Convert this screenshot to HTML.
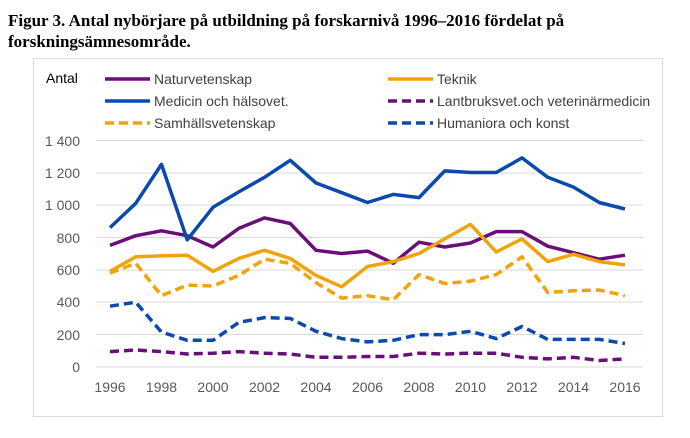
<!DOCTYPE html><html><head><meta charset="utf-8"><style>body{margin:0;background:#fff}</style></head><body>
<svg width="690" height="433" xmlns="http://www.w3.org/2000/svg" font-family="Liberation Sans, sans-serif">
<text x="8" y="26" font-family="Liberation Serif, serif" font-weight="bold" font-size="17">Figur 3. Antal nybörjare på utbildning på forskarnivå 1996–2016 fördelat på</text>
<text x="8" y="47" font-family="Liberation Serif, serif" font-weight="bold" font-size="17">forskningsämnesområde.</text>
<rect x="33.5" y="58.5" width="629" height="358" fill="none" stroke="#d9d9d9"/>
<g stroke="#d9d9d9" stroke-width="1">
<line x1="96" x2="643" y1="140.5" y2="140.5"/><line x1="96" x2="643" y1="173" y2="173"/><line x1="96" x2="643" y1="205" y2="205"/><line x1="96" x2="643" y1="237.5" y2="237.5"/><line x1="96" x2="643" y1="270" y2="270"/><line x1="96" x2="643" y1="302" y2="302"/><line x1="96" x2="643" y1="334.5" y2="334.5"/><line x1="96" x2="643" y1="367" y2="367"/>
</g>
<g font-size="14" fill="#595959" text-anchor="end">
<text x="80" y="146">1 400</text><text x="80" y="178">1 200</text><text x="80" y="210">1 000</text><text x="80" y="243">800</text><text x="80" y="275">600</text><text x="80" y="307">400</text><text x="80" y="340">200</text><text x="80" y="372">0</text>
</g>
<g font-size="14" fill="#595959" text-anchor="middle">
<text x="110" y="392">1996</text><text x="161.5" y="392">1998</text><text x="213" y="392">2000</text><text x="264.5" y="392">2002</text><text x="316" y="392">2004</text><text x="367.5" y="392">2006</text><text x="419" y="392">2008</text><text x="470.5" y="392">2010</text><text x="522" y="392">2012</text><text x="573.5" y="392">2014</text><text x="625" y="392">2016</text>
</g>
<text x="46" y="83" font-size="14" fill="#000">Antal</text>
<g font-size="14" fill="#404040">
<line x1="105" x2="150" y1="79" y2="79" stroke="#6a0f7a" stroke-width="3.5"/><text x="154" y="84">Naturvetenskap</text>
<line x1="388" x2="433" y1="79" y2="79" stroke="#f0a30a" stroke-width="3.5"/><text x="437" y="84">Teknik</text>
<line x1="105" x2="150" y1="101" y2="101" stroke="#0a4aad" stroke-width="3.5"/><text x="154" y="106">Medicin och hälsovet.</text>
<line x1="388" x2="433" y1="101" y2="101" stroke="#6a0f7a" stroke-width="3.5" stroke-dasharray="9,5"/><text x="437" y="106">Lantbruksvet.och veterinärmedicin</text>
<line x1="105" x2="150" y1="123" y2="123" stroke="#f0a30a" stroke-width="3.5" stroke-dasharray="9,5"/><text x="154" y="128">Samhällsvetenskap</text>
<line x1="388" x2="433" y1="123" y2="123" stroke="#0a4aad" stroke-width="3.5" stroke-dasharray="9,5"/><text x="437" y="128">Humaniora och konst</text>
</g>
<g fill="none" stroke-width="3.5" stroke-linejoin="round">
<polyline stroke="#6a0f7a" points="110,245.4 135.75,235.7 161.5,230.8 187.25,235.7 213,247 238.75,228.4 264.5,217.9 290.25,223.5 316,250.3 341.75,253.5 367.5,251.1 393.25,263.3 419,242.2 444.75,247 470.5,243 496.25,231.6 522,231.6 547.75,246.2 573.5,252.7 599.25,259.2 625,255.2"/>
<polyline stroke="#0a4aad" points="110,227.6 135.75,203.3 161.5,164.4 187.25,239.8 213,207.3 238.75,191.9 264.5,177.3 290.25,160.3 316,183 341.75,192.7 367.5,202.5 393.25,194.4 419,197.6 444.75,170.9 470.5,172.5 496.25,172.5 522,157.9 547.75,177.3 573.5,187.1 599.25,202.5 625,209"/>
<polyline stroke="#f0a30a" points="110,271.4 135.75,256.8 161.5,255.9 187.25,255.2 213,271.4 238.75,258.4 264.5,250.3 290.25,258.4 316,275.4 341.75,286.8 367.5,266.5 393.25,261.6 419,253.5 444.75,238.9 470.5,224.4 496.25,251.9 522,238.9 547.75,261.6 573.5,254.3 599.25,261.6 625,264.9"/>
<polyline stroke="#f0a30a" stroke-dasharray="9,5" points="110,273 135.75,263.3 161.5,295.7 187.25,285.1 213,286 238.75,275.4 264.5,259.2 290.25,263.3 316,282.7 341.75,298.1 367.5,295.7 393.25,299.7 419,274.6 444.75,283.5 470.5,281.1 496.25,274.6 522,256.8 547.75,292.4 573.5,290.8 599.25,290 625,295.7"/>
<polyline stroke="#0a4aad" stroke-dasharray="9,5" points="110,306.2 135.75,302.2 161.5,332.1 187.25,340.3 213,340.3 238.75,322.4 264.5,317.6 290.25,318.4 316,331.3 341.75,338.6 367.5,341.9 393.25,340.3 419,334.6 444.75,334.6 470.5,331.3 496.25,338.6 522,326.5 547.75,339.4 573.5,339.4 599.25,339.4 625,343.5"/>
<polyline stroke="#6a0f7a" stroke-dasharray="9,5" points="110,351.6 135.75,350 161.5,351.6 187.25,354 213,353.2 238.75,351.6 264.5,353.2 290.25,354 316,357.3 341.75,357.3 367.5,356.5 393.25,356.5 419,353.2 444.75,354 470.5,353.2 496.25,353.2 522,357.3 547.75,358.9 573.5,357.3 599.25,360.5 625,358.9"/>
</g>
</svg></body></html>
